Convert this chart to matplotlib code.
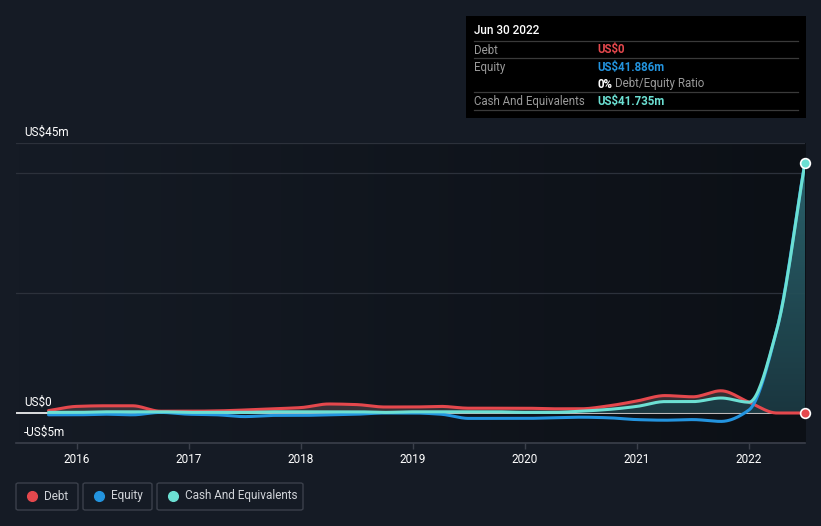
import matplotlib as mpl
mpl.use("Agg")
import matplotlib.pyplot as plt
from matplotlib.colors import LinearSegmentedColormap, to_rgb
from matplotlib.patches import FancyBboxPatch, Rectangle
import matplotlib.transforms as mtransforms
import numpy as np

plt.rcParams['font.family'] = ['Roboto', 'DejaVu Sans']

# quarter ends, Sep 2015 .. Jun 2022 (decimal years)
quarters = [2015.75, 2016.0, 2016.25, 2016.5, 2016.75, 2017.0, 2017.25, 2017.5,
            2017.75, 2018.0, 2018.25, 2018.5, 2018.75, 2019.0, 2019.25, 2019.5,
            2019.75, 2020.0, 2020.25, 2020.5, 2020.75, 2021.0, 2021.25, 2021.5,
            2021.75, 2022.0, 2022.25, 2022.5]

# values in US$ millions
debt = [0.4, 1.1, 1.2, 1.2, 0.3, 0.3, 0.35, 0.5, 0.7, 0.9, 1.5, 1.4, 1.0, 1.0,
        1.1, 0.8, 0.8, 0.8, 0.7, 0.7, 1.2, 2.0, 2.9, 2.7, 3.7, 1.8, 0.0, 0.0]
equity = [-0.3, -0.3, -0.2, -0.3, 0.1, -0.2, -0.3, -0.6, -0.4, -0.4, -0.3, -0.2,
          0.0, 0.0, -0.2, -0.9, -0.9, -0.9, -0.8, -0.7, -0.8, -1.1, -1.2, -1.1,
          -1.4, 0.5, 14.0, 41.886]
cash = [0.1, 0.1, 0.2, 0.2, 0.2, 0.1, 0.1, 0.1, 0.2, 0.2, 0.2, 0.2, 0.1, 0.2,
        0.2, 0.2, 0.2, 0.1, 0.1, 0.3, 0.6, 1.1, 1.9, 1.9, 2.5, 1.8, 14.0, 41.735]

years = [2016, 2017, 2018, 2019, 2020, 2021, 2022]
ytick_vals = [45, 0, -5]
ytick_labels = ['US$45m', 'US$0', '-US$5m']

BG = '#151b25'
RED = '#e5484d'
BLUE = '#2394df'
CYAN = '#6ce0d3'


def smooth(x, y, n=600):
    # monotone cubic (pchip-like) curve through the points, for drawing only
    x = np.asarray(x, float)
    y = np.asarray(y, float)
    h = np.diff(x)
    d = np.diff(y) / h
    m = np.zeros_like(y)
    for i in range(1, len(y) - 1):
        if d[i - 1] * d[i] > 0:
            w1 = 2 * h[i] + h[i - 1]
            w2 = h[i] + 2 * h[i - 1]
            m[i] = (w1 + w2) / (w1 / d[i - 1] + w2 / d[i])
    m[0] = d[0]
    m[-1] = d[-1]
    xs = np.linspace(x[0], x[-1], n)
    idx = np.clip(np.searchsorted(x, xs) - 1, 0, len(x) - 2)
    t = (xs - x[idx]) / h[idx]
    h00 = 2 * t**3 - 3 * t**2 + 1
    h10 = t**3 - 2 * t**2 + t
    h01 = -2 * t**3 + 3 * t**2
    h11 = t**3 - t**2
    ys = h00 * y[idx] + h10 * h[idx] * m[idx] + h01 * y[idx + 1] + h11 * h[idx] * m[idx + 1]
    return xs, ys


fig = plt.figure(figsize=(8.21, 5.26), dpi=100, facecolor=BG)
W, H = 821, 526
ax = fig.add_axes([16 / W, (H - 443) / H, (805 - 16) / W, (443 - 143) / H])
ax.set_facecolor(BG)
x0, x1 = 2015.46, 2022.5
ax.set_xlim(x0, x1)
ax.set_ylim(-5, 45)

# background gradient of the plot area
bgcm = LinearSegmentedColormap.from_list('bg', [BG, '#0c1016'])
ax.imshow(np.linspace(0, 1, 256)[None, :], cmap=bgcm, aspect='auto',
          extent=[0, 1, 0, 1], transform=ax.transAxes, zorder=0)

for v in [20, 40, 45]:
    ax.axhline(v, color='#2c313b', lw=0.9, zorder=1)
ax.axhline(0, color='white', lw=1.2, zorder=2)

for s in ['top', 'right', 'left']:
    ax.spines[s].set_visible(False)
ax.spines['bottom'].set_color('#3b404b')
ax.spines['bottom'].set_linewidth(1.2)
ax.set_yticks([])
ax.set_xticks(years)
ax.set_xticklabels([str(y) for y in years], fontsize=8.5)
ax.tick_params(axis='x', colors='#3b404b', length=4, width=1, pad=3, labelcolor='white')

# y labels sit a little above their lines
ylab_tr = mtransforms.blended_transform_factory(fig.transFigure, ax.transData)
ylab_tr = ylab_tr + mtransforms.ScaledTranslation(0, 3 / 72, fig.dpi_scale_trans)
for v, lab in zip(ytick_vals, ytick_labels):
    ax.text(24 / W, v, lab, transform=ylab_tr, color='white', fontsize=8.5,
            va='bottom', ha='left')

xd, yd = smooth(quarters, debt)
xe, ye = smooth(quarters, equity)
xc, yc = smooth(quarters, cash)

# debt fill
ax.fill_between(xd, yd, 0, color='#6b5457', alpha=0.45, lw=0, zorder=3)

# cash gradient fill
poly = ax.fill_between(xc, yc, 0, color='none', lw=0, zorder=3)
ccm = LinearSegmentedColormap.from_list('cf', [to_rgb('#1b3942'), to_rgb('#2c6670')])
grad = ax.imshow(np.linspace(0, 1, 256)[:, None], cmap=ccm, aspect='auto', origin='lower',
                 extent=[x0, x1, 0, 42], zorder=3, alpha=0.95)
grad.set_clip_path(poly.get_paths()[0], transform=ax.transData)
ax.set_xlim(x0, x1)
ax.set_ylim(-5, 45)

ax.plot(xd, yd, color=RED, lw=2.2, zorder=4, solid_capstyle='round')
ax.plot(xe, ye, color=BLUE, lw=2.2, zorder=5, solid_capstyle='round')
ax.plot(xc, yc, color=CYAN, lw=2.2, zorder=6, solid_capstyle='round')
ax.plot([quarters[-1]], [debt[-1]], 'o', ms=7, color=RED, mec='white', mew=1.2, zorder=7, clip_on=False)
ax.plot([quarters[-1]], [cash[-1]], 'o', ms=7, color=CYAN, mec='white', mew=1.2, zorder=7, clip_on=False)


# tooltip box
def fx(px):
    return px / W


def fy(py):
    return 1 - py / H


fig.patches.append(Rectangle((fx(466), fy(118)), fx(806) - fx(466), fy(16) - fy(118),
                             transform=fig.transFigure, facecolor='black', edgecolor='none', zorder=10))
fig.text(fx(474), fy(31), 'Jun 30 2022', color='white', fontsize=8.5, fontweight='medium',
         va='center', zorder=11)
for ly in [41, 58, 92, 110]:
    fig.add_artist(plt.Line2D([fx(474), fx(798)], [fy(ly), fy(ly)], color='#3a3a3a', lw=0.9,
                              transform=fig.transFigure, zorder=11))
rows = [(50, 'Debt', 'US$0', RED), (67, 'Equity', 'US$41.886m', BLUE),
        (101, 'Cash And Equivalents', 'US$41.735m', CYAN)]
for ry, lab, val, col in rows:
    fig.text(fx(474), fy(ry), lab, color='#9a9a9a', fontsize=8.3, va='center', zorder=11)
    fig.text(fx(597), fy(ry), val, color=col, fontsize=8.3, fontweight='bold', va='center', zorder=11)
fig.text(fx(597), fy(84), '0%', color='white', fontsize=8.3, fontweight='bold', va='center', zorder=11)
fig.text(fx(615), fy(84), 'Debt/Equity Ratio', color='#9a9a9a', fontsize=8.3, va='center', zorder=11)

# legend boxes
legend = [(16, 78, 'Debt', RED), (83, 152, 'Equity', BLUE), (157, 303, 'Cash And Equivalents', CYAN)]
for lx0, lx1, lab, col in legend:
    fig.patches.append(FancyBboxPatch((fx(lx0), fy(510)), fx(lx1) - fx(lx0), fy(483) - fy(510),
                                      boxstyle='round,pad=0,rounding_size=0.003',
                                      transform=fig.transFigure, facecolor='none',
                                      edgecolor='#3b404b', lw=1, zorder=10))
    fig.add_artist(plt.Line2D([fx(lx0 + 16)], [fy(496)], marker='o', ms=7, color=col,
                              transform=fig.transFigure, zorder=11))
    fig.text(fx(lx0 + 28), fy(496), lab, color='#d0d3d8', fontsize=8.5, va='center', zorder=11)

fig.savefig('out.png', dpi=100, facecolor=BG)
